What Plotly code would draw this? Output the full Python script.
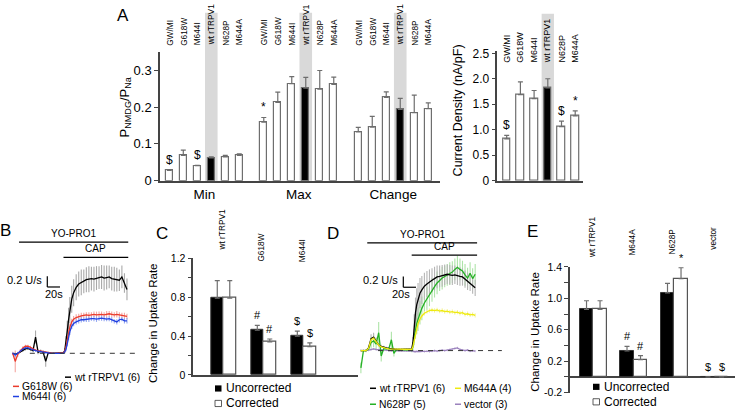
import plotly.graph_objects as go

# ---------------- data ----------------
# panel A: relative permeability and current density
mutants = ['GW/MI', 'G618W', 'M644I', 'wt rTRPV1', 'N628P', 'M644A']
perm_groups = ['Min', 'Max', 'Change']
perm_mean = {
    'Min':    [0.028, 0.069, 0.041, 0.062, 0.065, 0.069],
    'Max':    [0.159, 0.213, 0.264, 0.252, 0.249, 0.262],
    'Change': [0.133, 0.146, 0.227, 0.194, 0.185, 0.196],
}
perm_err = {
    'Min':    [0.000, 0.014, 0.001, 0.003, 0.004, 0.004],
    'Max':    [0.013, 0.028, 0.019, 0.029, 0.051, 0.020],
    'Change': [0.012, 0.029, 0.015, 0.030, 0.048, 0.016],
}
# '&#36;' is a dollar sign (a bare '$' would be read as LaTeX)
perm_sig = {'Min': ['&#36;', '', '&#36;', '', '', ''], 'Max': ['*', '', '', '', '', ''],
            'Change': ['', '', '', '', '', '']}
dens_mean = [0.82, 1.69, 1.61, 1.82, 1.06, 1.27]
dens_err = [0.07, 0.25, 0.16, 0.18, 0.11, 0.10]
dens_sig = ['&#36;', '', '', '', '&#36;', '*']

# time axis (s) for YO-PRO1 uptake traces, CAP applied at 80 s
t_sec = [0, 4, 8, 12, 16, 20, 24, 28, 32, 36, 40, 44, 48, 52, 56, 60, 64, 68, 72, 76,
         80, 82, 84, 86, 88, 90, 93, 96,
         100, 104, 108, 112, 116, 120, 124, 128, 132, 136, 140, 144, 148, 152, 156,
         160, 164, 168, 172, 176, 180]

# panel B traces (U/s)
b_wt = [0.00, -0.02, 0.00, 0.03, 0.06, 0.08, 0.09, 0.07, 0.05, 0.30, 0.02, 0.04, 0.02, -0.15,
        0.01, 0.00, 0.00, 0.00, 0.00, 0.00,
        0.01, 0.05, 0.20, 0.42, 0.62, 0.80, 1.00, 1.12,
        1.22, 1.28, 1.31, 1.33, 1.36, 1.37, 1.38, 1.37, 1.39, 1.40, 1.41, 1.39, 1.40, 1.41,
        1.38, 1.37, 1.36, 1.35, 1.41, 1.30, 1.18]
b_wt_err = [0.02, 0.03, 0.02, 0.02, 0.03, 0.03, 0.03, 0.03, 0.03, 0.12, 0.04, 0.03, 0.03, 0.10,
            0.02, 0.01, 0.01, 0.01, 0.01, 0.01,
            0.02, 0.05, 0.12, 0.18, 0.22, 0.24, 0.25, 0.25,
            0.24, 0.23, 0.24, 0.22, 0.23, 0.24, 0.22, 0.23, 0.22, 0.21, 0.22, 0.23, 0.22, 0.21,
            0.22, 0.23, 0.22, 0.20, 0.21, 0.18, 0.20]
b_g618w = [0.00, -0.15, -0.02, 0.05, 0.10, 0.13, 0.13, 0.11, 0.08, 0.06, 0.05, 0.04, 0.03, 0.02,
           0.01, 0.01, 0.00, 0.00, 0.00, 0.00,
           0.01, 0.04, 0.12, 0.25, 0.38, 0.48, 0.58, 0.63,
           0.66, 0.68, 0.69, 0.70, 0.71, 0.70, 0.71, 0.72, 0.71, 0.72, 0.72, 0.71, 0.72, 0.73,
           0.72, 0.71, 0.72, 0.71, 0.70, 0.70, 0.68]
b_g618w_err = [0.03, 0.20, 0.05, 0.03, 0.03, 0.03, 0.03, 0.03, 0.02, 0.02, 0.02, 0.02, 0.02, 0.02,
               0.01, 0.01, 0.01, 0.01, 0.01, 0.01,
               0.02, 0.03, 0.05, 0.06, 0.07, 0.07, 0.06, 0.06,
               0.06, 0.05, 0.06, 0.05, 0.05, 0.06, 0.05, 0.05, 0.06, 0.05, 0.05, 0.05, 0.06, 0.05,
               0.05, 0.05, 0.06, 0.05, 0.05, 0.05, 0.05]
b_m644i = [0.00, -0.03, 0.00, 0.04, 0.08, 0.10, 0.10, 0.08, 0.06, 0.05, 0.04, 0.03, 0.02, 0.01,
           0.01, 0.00, 0.00, 0.00, 0.00, 0.00,
           0.00, 0.03, 0.08, 0.18, 0.30, 0.40, 0.50, 0.55,
           0.58, 0.60, 0.62, 0.62, 0.63, 0.63, 0.64, 0.64, 0.63, 0.64, 0.65, 0.64, 0.63, 0.64,
           0.62, 0.59, 0.58, 0.62, 0.63, 0.60, 0.60]
b_m644i_err = [0.02, 0.04, 0.02, 0.02, 0.02, 0.02, 0.02, 0.02, 0.02, 0.02, 0.02, 0.02, 0.02, 0.02,
               0.01, 0.01, 0.01, 0.01, 0.01, 0.01,
               0.01, 0.02, 0.04, 0.05, 0.06, 0.06, 0.05, 0.05,
               0.05, 0.05, 0.05, 0.04, 0.05, 0.05, 0.04, 0.05, 0.05, 0.04, 0.05, 0.05, 0.04, 0.05,
               0.05, 0.04, 0.05, 0.05, 0.04, 0.05, 0.05]

# panel C: change in uptake rate
c_groups = ['wt rTRPV1', 'G618W', 'M644I']
c_uncorr = [0.79, 0.46, 0.40]
c_uncorr_err = [0.18, 0.05, 0.05]
c_corr = [0.79, 0.34, 0.29]
c_corr_err = [0.18, 0.03, 0.04]
c_uncorr_sig = ['', '#', '&#36;']
c_corr_sig = ['', '#', '&#36;']

# panel D traces (U/s)
d_wt = [0.00, 0.00, 0.00, 0.05, 0.22, 0.25, 0.18, 0.10, 0.08, 0.06, 0.05, 0.04, 0.03, 0.03,
        0.02, 0.02, 0.02, 0.02, 0.02, 0.02,
        0.03, 0.15, 0.45, 0.70, 0.85, 0.95, 1.06, 1.12,
        1.19, 1.23, 1.27, 1.30, 1.33, 1.36, 1.37, 1.38, 1.40, 1.41, 1.40, 1.39, 1.40, 1.38,
        1.37, 1.36, 1.32, 1.28, 1.25, 1.20, 1.16]
d_wt_err = [0.02, 0.02, 0.02, 0.04, 0.08, 0.08, 0.06, 0.04, 0.03, 0.03, 0.02, 0.02, 0.02, 0.02,
            0.02, 0.02, 0.02, 0.02, 0.02, 0.02,
            0.03, 0.10, 0.22, 0.28, 0.30, 0.30, 0.28, 0.26,
            0.25, 0.24, 0.23, 0.22, 0.22, 0.21, 0.20, 0.20, 0.19, 0.18, 0.18, 0.18, 0.17, 0.17,
            0.17, 0.16, 0.16, 0.16, 0.15, 0.15, 0.15]
d_m644a = [0.00, 0.00, 0.00, 0.04, 0.20, 0.23, 0.17, 0.10, 0.07, 0.05, 0.04, 0.03, 0.03, 0.02,
           0.02, 0.02, 0.02, 0.02, 0.02, 0.02,
           0.02, 0.08, 0.20, 0.32, 0.42, 0.50, 0.58, 0.64,
           0.69, 0.72, 0.74, 0.75, 0.74, 0.75, 0.73, 0.74, 0.72, 0.73, 0.71, 0.72, 0.70, 0.71,
           0.69, 0.70, 0.67, 0.68, 0.66, 0.67, 0.65]
d_m644a_err = [0.02, 0.02, 0.02, 0.03, 0.04, 0.04, 0.04, 0.03, 0.02, 0.02, 0.02, 0.02, 0.02, 0.02,
               0.02, 0.02, 0.02, 0.02, 0.02, 0.02,
               0.02, 0.03, 0.04, 0.05, 0.05, 0.05, 0.05, 0.04,
               0.04, 0.04, 0.04, 0.04, 0.04, 0.04, 0.04, 0.04, 0.04, 0.04, 0.04, 0.04, 0.04, 0.04,
               0.04, 0.04, 0.04, 0.04, 0.04, 0.04, 0.04]
d_n628p = [-0.32, 0.00, 0.00, 0.03, 0.15, 0.18, 0.12, 0.33, -0.10, 0.04, 0.03, 0.03, 0.20, -0.05,
           0.02, 0.02, 0.01, 0.01, 0.01, 0.01,
           0.00, 0.08, 0.25, 0.40, 0.50, 0.58, 0.70, 0.78,
           0.88, 0.96, 1.03, 1.12, 1.18, 1.25, 1.30, 1.34, 1.37, 1.40, 1.42, 1.45, 1.50, 1.54,
           1.50, 1.47, 1.40, 1.34, 1.43, 1.33, 1.41]
d_n628p_err = [0.10, 0.03, 0.03, 0.04, 0.10, 0.12, 0.10, 0.20, 0.10, 0.04, 0.03, 0.03, 0.15, 0.06,
               0.02, 0.02, 0.02, 0.02, 0.02, 0.02,
               0.03, 0.08, 0.15, 0.18, 0.20, 0.22, 0.22, 0.22,
               0.22, 0.22, 0.21, 0.22, 0.20, 0.21, 0.20, 0.21, 0.20, 0.20, 0.21, 0.20, 0.20, 0.21,
               0.20, 0.19, 0.20, 0.19, 0.20, 0.19, 0.19]
d_vector = [0.00, 0.00, 0.00, 0.01, 0.02, 0.03, 0.02, 0.02, 0.01, 0.01, 0.01, 0.00, 0.00, 0.00,
            0.00, 0.00, 0.00, 0.00, 0.00, 0.00,
            0.00, -0.01, -0.02, -0.02, -0.01, -0.02, -0.02, -0.01,
            -0.02, -0.01, -0.02, -0.01, 0.00, -0.01, 0.00, 0.01, 0.00, 0.01, 0.02, 0.03, 0.04, 0.05,
            0.02, 0.01, 0.00, 0.01, -0.01, 0.00, -0.01]
d_vector_err = [0.02] * len(t_sec)

# panel E: change in uptake rate
e_groups = ['wt rTRPV1', 'M644A', 'N628P', 'vector']
e_uncorr = [0.86, 0.33, 1.07, 0.0]
e_uncorr_err = [0.11, 0.06, 0.12, 0.0]
e_corr = [0.86, 0.22, 1.25, 0.0]
e_corr_err = [0.11, 0.05, 0.14, 0.0]
e_uncorr_sig = ['', '#', '', '&#36;']
e_corr_sig = ['', '#', '*', '&#36;']

# ---------------- layout helpers ----------------
W, H = 741, 419
FONT = 'Liberation Sans, Arial, sans-serif'
AX = '#444444'
EDGE = '#6e6e6e'


def fx(px):
    return px / W


def fy(py):
    return 1 - py / H


fig = go.Figure()
ann = []
shp = []


def text(x, y, s, size=11, xref='paper', yref='paper', xanchor='center', yanchor='middle',
         angle=0, yshift=0):
    ann.append(dict(x=x, y=y, text=s, xref=xref, yref=yref, xanchor=xanchor, yanchor=yanchor,
                    textangle=angle, showarrow=False, yshift=yshift,
                    font=dict(size=size, family=FONT, color='black')))


def line(x0, y0, x1, y1, xref='paper', yref='paper', color='black', width=1.2, dash=None):
    shp.append(dict(type='line', x0=x0, y0=y0, x1=x1, y1=y1, xref=xref, yref=yref,
                    line=dict(color=color, width=width, dash=dash)))


def err_dict(err, color=EDGE):
    return dict(type='data', array=err, arrayminus=[0] * len(err), symmetric=False,
                color=color, thickness=1.2, width=2.5)


# ---------------- panel A left: permeability ----------------
for g, grp in enumerate(perm_groups):
    xs = [g * 6.75 + i for i in range(len(mutants))]
    fills = ['black' if m == 'wt rTRPV1' else 'white' for m in mutants]
    fig.add_trace(go.Bar(x=xs, y=perm_mean[grp], width=0.5, marker=dict(color=fills,
                         line=dict(color=EDGE, width=1.2)),
                         error_y=err_dict(perm_err[grp]), xaxis='x', yaxis='y', showlegend=False))
    for i, m in enumerate(mutants):
        text(xs[i], fy(43), m, size=8.3, xref='x', yanchor='bottom', angle=-90)
        if perm_sig[grp][i]:
            text(xs[i], perm_mean[grp][i] + perm_err[grp][i], perm_sig[grp][i], size=12,
                 xref='x', yref='y', yanchor='bottom', yshift=1)
    wi = mutants.index('wt rTRPV1')
    shp.append(dict(type='rect', xref='x', yref='paper', x0=xs[wi] - 0.45, x1=xs[wi] + 0.45,
                    y0=fy(180.7), y1=fy(7), fillcolor='#d9d9d9', line=dict(width=0),
                    layer='below'))

text(fx(125), fy(105), 'P<sub>NMDG</sub>/P<sub>Na</sub>', size=13, angle=-90)

# ---------------- panel A right: current density ----------------
xd = list(range(len(mutants)))
fills = ['black' if m == 'wt rTRPV1' else 'white' for m in mutants]
fig.add_trace(go.Bar(x=xd, y=dens_mean, width=0.55,
                     marker=dict(color=fills, line=dict(color=EDGE, width=1.2)),
                     error_y=err_dict(dens_err), xaxis='x2', yaxis='y2', showlegend=False))
for i, m in enumerate(mutants):
    text(xd[i], fy(61), m, size=9, xref='x2', yanchor='bottom', angle=-90)
    if dens_sig[i]:
        text(xd[i], dens_mean[i] + dens_err[i], dens_sig[i], size=12, xref='x2', yref='y2',
             yanchor='bottom', yshift=1)
wi = mutants.index('wt rTRPV1')
shp.append(dict(type='rect', xref='x2', yref='paper', x0=wi - 0.45, x1=wi + 0.45,
                y0=fy(180.7), y1=fy(8), fillcolor='#d9d9d9', line=dict(width=0), layer='below'))
text(fx(458), fy(108), 'Current Density (nA/pF)', size=12.5, angle=-90)
text(fx(123), fy(10), 'A', size=17)


# ---------------- uptake traces (B and D) ----------------
def add_traces(series, xa, ya):
    for vals, err, col, light in series:
        fig.add_trace(go.Scatter(x=t_sec, y=vals, mode='markers', marker=dict(size=0.1, color=light),
                                 error_y=dict(type='data', array=err, color=light, thickness=1.1,
                                              width=0),
                                 xaxis=xa, yaxis=ya, showlegend=False, hoverinfo='skip'))
    for vals, err, col, light in series:
        fig.add_trace(go.Scatter(x=t_sec, y=vals, mode='lines', line=dict(color=col, width=1.3),
                                 xaxis=xa, yaxis=ya, showlegend=False))


add_traces([(b_wt, b_wt_err, 'black', '#a9a9a9'),
            (b_g618w, b_g618w_err, '#ea3b2c', '#f4a6a0'),
            (b_m644i, b_m644i_err, '#2040e0', '#93a6f2')], 'x3', 'y3')
add_traces([(d_vector, d_vector_err, '#9b82bd', '#cfc2e0'),
            (d_n628p, d_n628p_err, '#25b125', '#aee4a8'),
            (d_wt, d_wt_err, 'black', '#b5b5b5'),
            (d_m644a, d_m644a_err, '#eeea10', '#f6f4a8')], 'x5', 'y5')

for xa, ya, t0, t1, y_yo, y_cap, sb_t, sb_y, base0, base1 in [
        ('x3', 'y3', 10, 182, 2.054, 1.773, 54.5, 1.225, 27, 197),
        ('x5', 'y5', 10, 183, 1.99, 1.764, 66.8, 1.17, 27, 222)]:
    line(t0, y_yo, t1, y_yo, xref=xa, yref=ya)
    line(80, y_cap, t1, y_cap, xref=xa, yref=ya)
    text((t0 + t1) / 2, y_yo, 'YO-PRO1', size=10, xref=xa, yref=ya, yanchor='bottom', yshift=1)
    text((80 + t1) / 2, y_cap, 'CAP', size=10, xref=xa, yref=ya, yanchor='bottom', yshift=1)
    # scale bar: 0.2 U/s, 20 s
    line(sb_t, sb_y, sb_t, sb_y + 0.2, xref=xa, yref=ya)
    line(sb_t, sb_y, sb_t + 20, sb_y, xref=xa, yref=ya)
    line(base0, 0, base1, 0, xref=xa, yref=ya, color='#333333', width=1, dash='5px,5px')

text(fx(44), fy(283), '0.2 U/s', size=11, xanchor='right')
text(fx(54), fy(297.5), '20s', size=11)
text(fx(400), fy(283), '0.2 U/s', size=11, xanchor='right')
text(fx(401), fy(297.5), '20s', size=11)

# legends for B and D
for x0, y0, col, lab in [(65, 384, 'black', 'wt rTRPV1 (6)'), (13, 393.5, '#ea3b2c', 'G618W (6)'),
                         (13, 404, '#2040e0', 'M644I (6)'),
                         (370, 395.5, 'black', 'wt rTRPV1 (6)'), (455, 395.5, '#eeea10', 'M644A (4)'),
                         (370, 412, '#25b125', 'N628P (5)'), (455, 412, '#9b82bd', 'vector (3)')]:
    line(fx(x0), fy(y0), fx(x0 + 6), fy(y0), color=col, width=1.5)
    text(fx(x0 + 7), fy(y0), lab, size=10.3, xanchor='left')

text(fx(5), fy(232), 'B', size=17)
text(fx(333), fy(235), 'D', size=17)


# ---------------- bar panels C and E ----------------
def uptake_bars(groups, unc, unc_e, cor, cor_e, unc_s, cor_s, xa, ya, half):
    xs = list(range(len(groups)))
    xu = [x - half for x in xs]
    xc = [x + half for x in xs]
    fig.add_trace(go.Bar(x=xu, y=unc, width=2 * half,
                         marker=dict(color='black', line=dict(color='#333333', width=1)),
                         error_y=err_dict(unc_e), xaxis=xa, yaxis=ya, showlegend=False))
    fig.add_trace(go.Bar(x=xc, y=cor, width=2 * half,
                         marker=dict(color='white', line=dict(color='#555555', width=1.2)),
                         error_y=err_dict(cor_e), xaxis=xa, yaxis=ya, showlegend=False))
    for i in xs:
        if unc_s[i]:
            text(xu[i], unc[i] + unc_e[i], unc_s[i], size=11, xref=xa, yref=ya,
                 yanchor='bottom', yshift=2)
        if cor_s[i]:
            text(xc[i], cor[i] + cor_e[i], cor_s[i], size=11, xref=xa, yref=ya,
                 yanchor='bottom', yshift=2)


uptake_bars(c_groups, c_uncorr, c_uncorr_err, c_corr, c_corr_err, c_uncorr_sig, c_corr_sig,
            'x4', 'y4', 0.156)
uptake_bars(e_groups, e_uncorr, e_uncorr_err, e_corr, e_corr_err, e_uncorr_sig, e_corr_sig,
            'x6', 'y6', 0.167)

for i, (g, b) in enumerate(zip(c_groups, [255, 267, 267])):
    text(i - 0.05, fy(b), g, size=8.3, xref='x4', yanchor='bottom', angle=-90)
for i, (g, b) in enumerate(zip(e_groups, [263, 260, 259, 254])):
    text(i - 0.05, fy(b), g, size=8.3, xref='x6', yanchor='bottom', angle=-90)

text(fx(153), fy(328), 'Change in Uptake Rate', size=11.5, angle=-90)
text(fx(535), fy(337), 'Change in Uptake Rate', size=11.5, angle=-90)
text(fx(162), fy(235), 'C', size=17)
text(fx(532), fy(233), 'E', size=17)

for sx, sy in [(215, 395.7), (593, 394)]:
    shp.append(dict(type='rect', xref='paper', yref='paper', x0=fx(sx), x1=fx(sx + 6.5),
                    y0=fy(sy + 3.2), y1=fy(sy - 3.2), fillcolor='black', line=dict(width=0)))
    text(fx(sx + 9), fy(sy), 'Uncorrected', size=12, xanchor='left')
    shp.append(dict(type='rect', xref='paper', yref='paper', x0=fx(sx), x1=fx(sx + 6.5),
                    y0=fy(sy + 15.5 + 3.2), y1=fy(sy + 15.5 - 3.2), fillcolor='white',
                    line=dict(width=0.8, color='#333333')))
    text(fx(sx + 9), fy(sy + 15.5), 'Corrected', size=12, xanchor='left')

# ---------------- axes ----------------
base_ax = dict(showgrid=False, zeroline=False, showline=True, linecolor=AX, linewidth=1.5,
               tickcolor=AX, ticklen=4, tickwidth=1.2, fixedrange=True,
               tickfont=dict(size=12, family=FONT, color='black'))
hidden = dict(visible=False, showgrid=False, zeroline=False, fixedrange=True)
minor_ticks = dict(ticks='outside', ticklen=4, tickcolor=AX, tickwidth=1.2, showgrid=False)

fig.update_layout(
    xaxis=dict(base_ax, domain=[fx(160), fx(440)], range=[-0.664, 19.34], anchor='y',
               tickvals=[2.5, 9.25, 16], ticktext=perm_groups, ticks='',
               tickfont=dict(size=13.5, family=FONT, color='black')),
    yaxis=dict(base_ax, domain=[fy(180.7), fy(47.7)], range=[0, 0.35], anchor='x',
               tickvals=[0, 0.1, 0.2, 0.3], ticktext=['0', '0.1', '0.2', '0.3'], ticks='outside',
               tickfont=dict(size=13, family=FONT, color='black')),
    xaxis2=dict(base_ax, domain=[fx(497.3), fx(582.7)], range=[-0.686, 5.547], anchor='y2',
                showticklabels=False, ticks=''),
    yaxis2=dict(base_ax, domain=[fy(180.7), fy(46.3)], range=[0, 2.55], anchor='x2',
                tickvals=[0, 0.5, 1, 1.5, 2, 2.5], ticktext=['0', '0.5', '1.0', '1.5', '2.0', '2.5'],
                ticks='outside', tickfont=dict(size=12, family=FONT, color='black')),
    xaxis3=dict(hidden, domain=[fx(8), fx(145)], range=[-7.4, 208.4], anchor='y3'),
    yaxis3=dict(hidden, domain=[fy(388), fy(236)], range=[-0.5125, 2.2018], anchor='x3'),
    xaxis4=dict(base_ax, domain=[fx(193.3), fx(358)], range=[-0.755, 3.36], anchor='y4',
                showticklabels=False, ticks=''),
    yaxis4=dict(base_ax, domain=[fy(381.7), fy(260.5)], range=[0, 1.205], anchor='x4',
                tickvals=[0, 0.4, 0.8, 1.2], ticktext=['0', '0.4', '0.8', '1.2'], ticks='outside',
                minor=dict(minor_ticks, tickvals=[0.2, 0.6, 1.0]),
                tickfont=dict(size=10.5, family=FONT, color='black')),
    xaxis5=dict(hidden, domain=[fx(356), fx(505)], range=[-7.72, 226.96], anchor='y5'),
    yaxis5=dict(hidden, domain=[fy(388), fy(236)], range=[-0.5625, 2.1518], anchor='x5'),
    xaxis6=dict(base_ax, domain=[fx(570), fx(735)], range=[-0.575, 3.5], anchor='y6',
                showline=False, showticklabels=False, ticks=''),
    yaxis6=dict(base_ax, domain=[fy(400), fy(270)], range=[-0.2, 1.4], anchor='x6',
                zeroline=True, zerolinecolor=AX, zerolinewidth=1.5,
                tickvals=[-0.2, 0.2, 0.6, 1.0, 1.4], ticktext=['-0.2', '0.2', '0.6', '1.0', '1.4'],
                ticks='outside', minor=dict(minor_ticks, tickvals=[0, 0.4, 0.8, 1.2]),
                tickfont=dict(size=10.5, family=FONT, color='black')),
    width=W, height=H, autosize=False,
    margin=dict(l=0, r=0, t=0, b=0),
    paper_bgcolor='white', plot_bgcolor='rgba(0,0,0,0)',
    bargap=0, barmode='overlay',
    annotations=ann, shapes=shp,
    font=dict(family=FONT, color='black'),
)

# drop the browser's default page margin so the figure sits at the window's corner
fig.write_html('out.html', config={'displayModeBar': False},
               post_script="document.body.style.margin='0';")
